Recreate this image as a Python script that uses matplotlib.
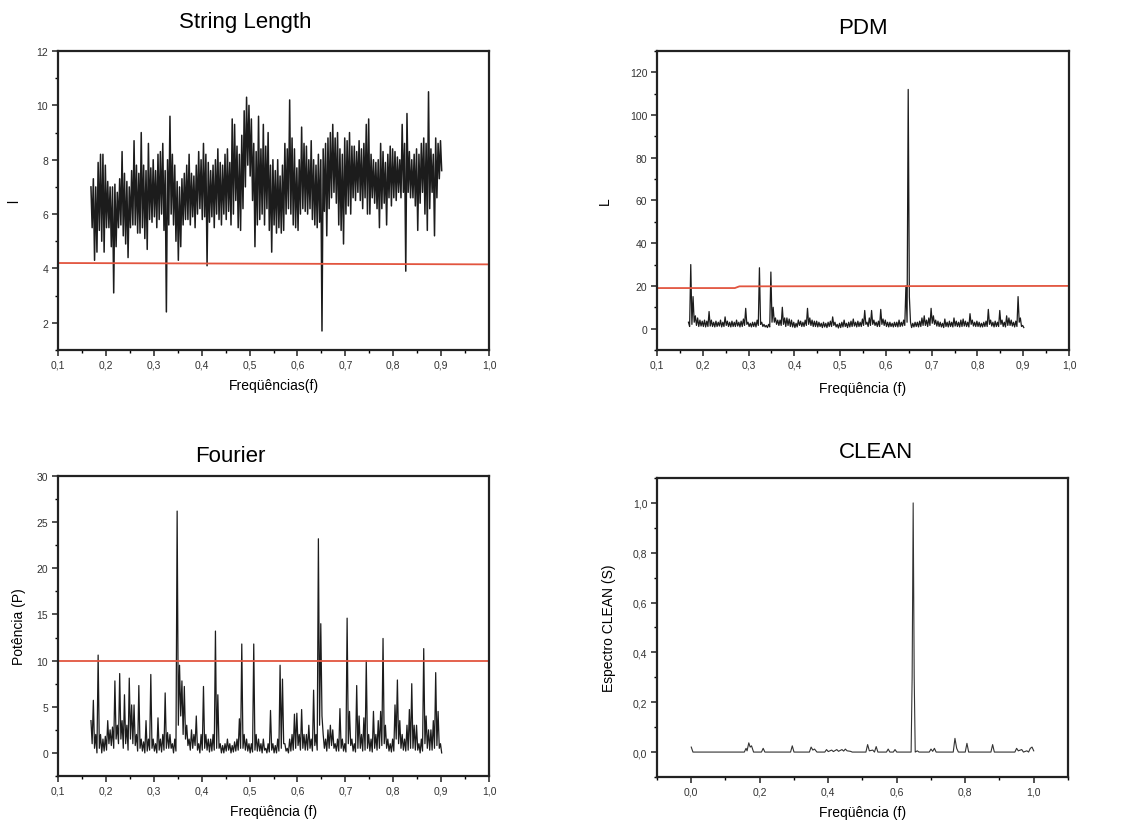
import numpy as np
import matplotlib
matplotlib.use("Agg")
import matplotlib.pyplot as plt
from matplotlib.ticker import MultipleLocator, FuncFormatter

plt.rcParams["font.family"] = ["Liberation Sans", "DejaVu Sans"]

# frequency grid shared by the String Length, PDM and Fourier panels (0.17 .. 0.90)
FREQ = np.round(0.17 + 0.005 * np.arange(147), 3)

# String Length: upper / lower envelope of the statistic at each frequency step
sl_hi = [7.0, 7.3, 7.0, 7.9, 8.2, 8.2, 7.8, 7.2, 7.0, 7.0,
         7.1, 6.8, 7.3, 8.3, 7.5, 7.2, 7.0, 7.6, 8.7, 7.8,
         7.5, 9.0, 7.8, 7.6, 8.6, 7.7, 8.0, 7.6, 8.2, 8.3,
         8.6, 7.6, 8.0, 9.6, 8.2, 7.8, 7.2, 7.0, 7.3, 7.5,
         7.8, 8.2, 7.5, 7.4, 7.8, 8.3, 8.0, 8.6, 8.2, 7.9,
         7.6, 7.8, 8.0, 8.4, 7.9, 7.8, 8.2, 8.4, 7.9, 9.5,
         9.3, 8.5, 8.2, 8.9, 9.8, 10.3, 10.0, 9.5, 8.6, 8.3,
         9.6, 8.4, 9.3, 8.5, 9.0, 7.8, 8.0, 7.6, 8.0, 7.4,
         7.8, 8.6, 8.4, 10.2, 8.8, 8.4, 7.7, 8.0, 9.2, 8.6,
         8.5, 8.0, 8.7, 8.0, 7.8, 8.2, 8.0, 8.4, 8.6, 8.8,
         9.0, 9.3, 8.8, 9.0, 8.4, 8.2, 8.8, 8.7, 9.0, 8.5,
         8.5, 8.3, 8.7, 8.4, 8.6, 9.3, 9.5, 8.2, 8.0, 7.9,
         8.0, 8.6, 8.3, 7.9, 8.2, 8.5, 8.4, 8.3, 8.1, 8.0,
         9.3, 8.6, 9.7, 8.3, 8.0, 8.2, 8.4, 8.2, 8.6, 8.8,
         8.6, 10.5, 8.4, 8.2, 8.8, 8.6, 8.7]
sl_lo = [5.5, 4.3, 4.6, 5.4, 5.0, 4.6, 5.5, 5.5, 4.8, 3.1,
         4.8, 5.5, 5.6, 5.2, 4.9, 4.4, 5.5, 5.6, 5.6, 5.3,
         5.3, 5.5, 5.1, 4.7, 5.8, 5.7, 5.9, 5.5, 5.8, 6.0,
         5.4, 2.4, 5.6, 6.0, 5.6, 5.0, 4.3, 4.8, 5.6, 5.8,
         5.8, 5.6, 5.9, 5.5, 6.0, 6.2, 5.8, 5.9, 4.1, 5.7,
         5.9, 5.5, 6.0, 5.8, 5.6, 6.0, 5.8, 6.1, 5.6, 6.0,
         6.5, 5.5, 5.4, 6.2, 7.0, 7.8, 7.4, 6.5, 4.8, 5.6,
         5.8, 6.0, 5.6, 6.2, 5.4, 4.6, 5.6, 5.3, 5.5, 5.3,
         5.4, 6.0, 6.2, 6.0, 5.6, 5.5, 5.4, 6.0, 6.2, 6.1,
         6.0, 6.2, 5.8, 5.6, 5.5, 5.7, 1.7, 6.1, 5.2, 6.2,
         6.6, 6.8, 6.4, 5.6, 5.4, 4.9, 6.0, 6.3, 6.0, 6.6,
         6.5, 6.8, 6.5, 6.2, 6.6, 6.0, 6.0, 6.6, 6.4, 6.2,
         5.5, 6.2, 6.4, 5.6, 6.6, 6.3, 6.6, 6.5, 6.8, 6.6,
         6.8, 3.9, 6.8, 6.6, 6.6, 6.3, 5.4, 6.4, 6.8, 6.0,
         5.4, 6.2, 6.8, 5.2, 6.6, 7.3, 7.6]

# PDM statistic
pdm_hi = [3, 30, 15, 6, 5, 4, 3.5, 4, 3.5, 8,
          4, 3, 3.5, 3, 4, 3, 5.5, 3.5, 3, 3.5,
          3, 4, 3, 3.5, 4.5, 9.5, 3, 2.5, 3, 3,
          4, 28.5, 3, 2, 1.5, 2, 26.5, 10, 5, 4,
          4, 10, 5, 5, 4.5, 4, 3, 2.5, 4, 3.5,
          3, 4, 9.5, 5, 4, 3.5, 3.5, 3, 2.5, 3,
          2.5, 3, 3.5, 5.5, 3, 2, 2.5, 3, 4, 2.5,
          3, 3.5, 4.5, 3, 3.5, 3, 4.5, 8.5, 3, 5,
          8.5, 4, 3, 3.5, 9, 4.5, 4, 3, 3, 2.5,
          3, 3, 4, 3, 4, 20, 112, 3, 2.5, 3,
          3, 3.5, 5, 6, 4, 5, 9.5, 6, 4, 3.5,
          3, 2.5, 4.5, 3, 3.5, 3, 5, 3.5, 3, 4,
          4.5, 3.5, 3, 7, 4, 3, 3.5, 3, 2.5, 3,
          3.5, 9, 4, 3, 3.5, 3, 8.5, 4, 3, 6,
          5, 4, 3, 3.5, 15, 5, 1.5]
pdm_lo = [1, 2, 3, 1.5, 1, 1.2, 1, 0.8, 1, 1.2,
          1, 0.8, 1, 1.2, 0.8, 1, 1.5, 1, 0.8, 1,
          1, 1.2, 0.8, 1, 1.5, 2, 1, 0.8, 1, 0.8,
          1.5, 2, 1, 0.8, 0.5, 0.8, 3, 3, 2, 1.5,
          1.5, 2, 1, 1.5, 1, 0.8, 0.5, 0.8, 1.5, 1,
          1, 1.5, 2, 1.5, 1, 1, 0.8, 1, 0.5, 0.8,
          0.5, 1, 1, 1.5, 0.8, 0.3, 0.5, 0.8, 1, 0.5,
          0.8, 1, 1.2, 0.8, 1, 1, 1.5, 2, 1, 1.5,
          2, 1.5, 1, 1, 2, 1.5, 1, 0.8, 1, 0.8,
          1, 0.8, 1, 1.2, 1.5, 3, 15, 0.5, 0.8, 1,
          0.8, 1, 1.5, 1.5, 1, 1.5, 2.5, 2, 1.2, 1,
          0.8, 0.5, 1, 0.8, 1, 0.8, 1.2, 1, 0.8, 1,
          1.2, 1, 0.8, 2, 1.2, 1, 1, 0.8, 0.8, 1,
          1, 2, 1.2, 0.8, 1, 1, 2, 1, 0.8, 1.5,
          1.5, 1.2, 0.8, 1, 3, 1, 0.5]

# Fourier power
fou_hi = [3.5, 5.7, 2, 10.6, 2, 1.5, 1.8, 3.5, 2.5, 2.8,
          7.8, 3, 8.6, 3.5, 6.3, 3, 8.1, 5.2, 5.2, 2,
          7.3, 1.5, 1.2, 3.5, 1.5, 8.5, 1.5, 1, 3.8, 1.5,
          2, 6.5, 2.2, 2, 1, 1.5, 26.2, 9.5, 7.8, 7.2,
          3, 1.5, 2.5, 2, 4, 1, 2, 7.2, 2, 1.5,
          1.5, 2, 13.2, 6.3, 1, 0.8, 1, 1.5, 1, 0.8,
          1.2, 1.5, 3.7, 11.8, 2, 1.5, 1, 1, 11.8, 2,
          1.5, 1, 1.5, 0.5, 1, 4.6, 1, 0.8, 1.5, 9.5,
          8, 1, 0.5, 1.5, 2, 4.2, 4.3, 2, 4.7, 2,
          2, 3, 1.5, 6.8, 2, 23.2, 14, 2, 1.5, 2.5,
          3, 2.5, 1, 1.5, 4.8, 1.5, 1, 14.6, 4.5, 1.5,
          1, 7.3, 4, 2, 3.8, 10, 2, 1.5, 4.5, 2,
          3.5, 4.5, 12.4, 3, 1.5, 1, 1.5, 5.2, 7.9, 3.5,
          2, 1.5, 3, 4.7, 7.5, 3, 3, 1, 1.5, 11.3,
          4, 2.5, 2.5, 3.5, 8.7, 4.5, 1]
fou_lo = [1, 0.5, 0, 0.5, 0, 0.2, 0.3, 1, 0.8, 0.5,
          1.5, 1, 1.5, 0.5, 1, 0.3, 1.5, 1, 0.8, 0.2,
          0.5, 0.2, 0, 0.2, 0.3, 0.5, 0.2, 0, 0.3, 0.1,
          0.3, 0.5, 0.5, 0.5, 0, 0.2, 3, 4, 2, 1.5,
          0.8, 0.3, 0.5, 0.8, 0.3, 0, 0.3, 0.5, 0.3, 0.1,
          0.2, 0.3, 0.5, 0.5, 0, 0, 0.2, 0.3, 0, 0.1,
          0.2, 0.3, 0.5, 0.5, 0.3, 0.2, 0, 0.1, 0.3, 0.2,
          0.2, 0, 0.3, 0, 0.1, 0.3, 0, 0, 0.2, 0.5,
          1, 0.2, 0, 0.2, 0.3, 0.5, 0.8, 0.3, 0.5, 0.3,
          0.3, 0.5, 0.2, 0.8, 0.3, 3, 4, 0.5, 0.2, 0.5,
          0.8, 0.5, 0.2, 0.2, 0.5, 0.2, 0.1, 1, 0.8, 0.2,
          0.1, 0.5, 0.5, 0.2, 0.3, 0.5, 0.2, 0.1, 0.5, 0.3,
          0.5, 0.8, 1, 0.5, 0.2, 0.1, 0.2, 1.5, 1, 0.5,
          0.3, 0.2, 0.3, 0.5, 0.5, 0.3, 0.3, 0, 0.2, 1,
          0.5, 0.3, 0.3, 0.5, 0.8, 0.5, 0]

# CLEAN spectrum (normalised)
clean_freq = [0.0, 0.005, 0.155, 0.16, 0.163, 0.168, 0.172, 0.176, 0.182,
              0.205, 0.21, 0.215, 0.29, 0.295, 0.3, 0.345, 0.35, 0.355, 0.36,
              0.367, 0.39, 0.395, 0.4, 0.41, 0.415, 0.425, 0.43, 0.44, 0.445,
              0.45, 0.455, 0.465, 0.47, 0.51, 0.515, 0.52, 0.53, 0.535, 0.54,
              0.545, 0.57, 0.575, 0.58, 0.59, 0.595, 0.6, 0.642, 0.645, 0.648,
              0.651, 0.654, 0.66, 0.665, 0.695, 0.7, 0.705, 0.71, 0.715, 0.765,
              0.77, 0.775, 0.78, 0.8, 0.805, 0.81, 0.875, 0.88, 0.885, 0.945,
              0.95, 0.955, 0.965, 0.97, 0.98, 0.985, 0.99, 0.995, 1.0]
clean_amp = [0.02, 0.0, 0.0, 0.015, 0.005, 0.037, 0.02, 0.025, 0.0,
             0.0, 0.015, 0.0, 0.0, 0.025, 0.0, 0.0, 0.02, 0.008, 0.012,
             0.0, 0.0, 0.01, 0.002, 0.008, 0.002, 0.01, 0.003, 0.01, 0.004,
             0.012, 0.005, 0.003, 0.0, 0.0, 0.03, 0.005, 0.008, 0.0, 0.022,
             0.0, 0.0, 0.012, 0.0, 0.0, 0.01, 0.0, 0.0, 0.3, 1.0,
             0.3, 0.0, 0.005, 0.0, 0.0, 0.012, 0.003, 0.015, 0.0, 0.0,
             0.055, 0.015, 0.0, 0.0, 0.035, 0.0, 0.0, 0.03, 0.0, 0.0,
             0.015, 0.005, 0.01, 0.0, 0.005, 0.0, 0.015, 0.02, 0.005]

# red threshold lines
sl_thr_x, sl_thr_y = [0.1, 1.0], [4.2, 4.15]
pdm_thr_x, pdm_thr_y = [0.1, 0.27, 0.28, 1.0], [19.0, 19.0, 19.8, 20.0]
fou_thr_x, fou_thr_y = [0.1, 1.0], [10.0, 10.0]

LINE = "#1c1c1c"
RED = "#e2553f"


def zigzag(freq, hi, lo):
    # alternate between the upper and lower envelope to get the dense trace
    x = np.empty(2 * len(freq))
    y = np.empty(2 * len(freq))
    x[0::2] = freq - 0.00125
    x[1::2] = freq + 0.00125
    y[0::2] = hi
    y[1::2] = lo
    return x, y


def comma(v, pos):
    return f"{v:.1f}".replace(".", ",")


def style_axes(ax, xlim, ylim, xmaj, ymaj, yfmt):
    ax.set_xlim(*xlim)
    ax.set_ylim(*ylim)
    ax.xaxis.set_major_locator(MultipleLocator(xmaj))
    ax.xaxis.set_minor_locator(MultipleLocator(xmaj / 2))
    ax.yaxis.set_major_locator(MultipleLocator(ymaj))
    ax.yaxis.set_minor_locator(MultipleLocator(ymaj / 2))
    ax.xaxis.set_major_formatter(FuncFormatter(comma))
    ax.yaxis.set_major_formatter(FuncFormatter(yfmt))
    ax.tick_params(which="major", direction="out", length=4, width=1.2,
                   labelsize=7.5, colors="#333333", pad=3)
    ax.tick_params(which="minor", direction="out", length=2.5, width=1.0)
    for sp in ax.spines.values():
        sp.set_linewidth(1.6)
        sp.set_color("#222222")


fig = plt.figure(figsize=(11.47, 8.28), dpi=100)

# String Length
ax1 = fig.add_axes([0.0506, 0.5761, 0.3757, 0.3611])
x, y = zigzag(FREQ, sl_hi, sl_lo)
ax1.plot(x, y, color=LINE, lw=1.1)
ax1.plot(sl_thr_x, sl_thr_y, color=RED, lw=1.3)
style_axes(ax1, (0.1, 1.0), (1, 12), 0.1, 2, lambda v, p: f"{v:.0f}")
ax1.text(0.434, 1.097, "String Length", transform=ax1.transAxes,
         ha="center", va="center", fontsize=16)
ax1.set_xlabel("Freqüências(f)", fontsize=10, labelpad=6)
ax1.set_ylabel("l", fontsize=10)
ax1.yaxis.set_label_coords(-0.085, 0.5)

# PDM
ax2 = fig.add_axes([0.5728, 0.5761, 0.3592, 0.3611])
x, y = zigzag(FREQ, pdm_hi, pdm_lo)
ax2.plot(x, y, color=LINE, lw=0.9)
ax2.plot(pdm_thr_x, pdm_thr_y, color=RED, lw=1.3)
style_axes(ax2, (0.1, 1.0), (-10, 130), 0.1, 20, lambda v, p: f"{v:.0f}")
ax2.text(0.5, 1.08, "PDM", transform=ax2.transAxes,
         ha="center", va="center", fontsize=16)
ax2.set_xlabel("Freqüência (f)", fontsize=10, labelpad=8)
ax2.set_ylabel("L", fontsize=10)
ax2.yaxis.set_label_coords(-0.11, 0.5)

# Fourier
ax3 = fig.add_axes([0.0506, 0.0616, 0.3757, 0.3623])
x, y = zigzag(FREQ, fou_hi, fou_lo)
ax3.plot(x, y, color=LINE, lw=0.9)
ax3.plot(fou_thr_x, fou_thr_y, color=RED, lw=1.3)
style_axes(ax3, (0.1, 1.0), (-2.5, 30), 0.1, 5, lambda v, p: f"{v:.0f}")
ax3.text(0.40, 1.067, "Fourier", transform=ax3.transAxes,
         ha="center", va="center", fontsize=16)
ax3.set_xlabel("Freqüência (f)", fontsize=10, labelpad=6)
ax3.set_ylabel("Potência (P)", fontsize=10)
ax3.yaxis.set_label_coords(-0.075, 0.5)

# CLEAN
ax4 = fig.add_axes([0.5728, 0.0604, 0.3583, 0.3611])
ax4.plot(clean_freq, clean_amp, color="#333333", lw=0.8)
style_axes(ax4, (-0.1, 1.1), (-0.1, 1.1), 0.2, 0.2, comma)
ax4.text(0.534, 1.087, "CLEAN", transform=ax4.transAxes,
         ha="center", va="center", fontsize=16)
ax4.set_xlabel("Freqüência (f)", fontsize=10, labelpad=6)
ax4.set_ylabel("Espectro CLEAN (S)", fontsize=10)
ax4.yaxis.set_label_coords(-0.10, 0.5)

fig.savefig("out.png", dpi=100)
